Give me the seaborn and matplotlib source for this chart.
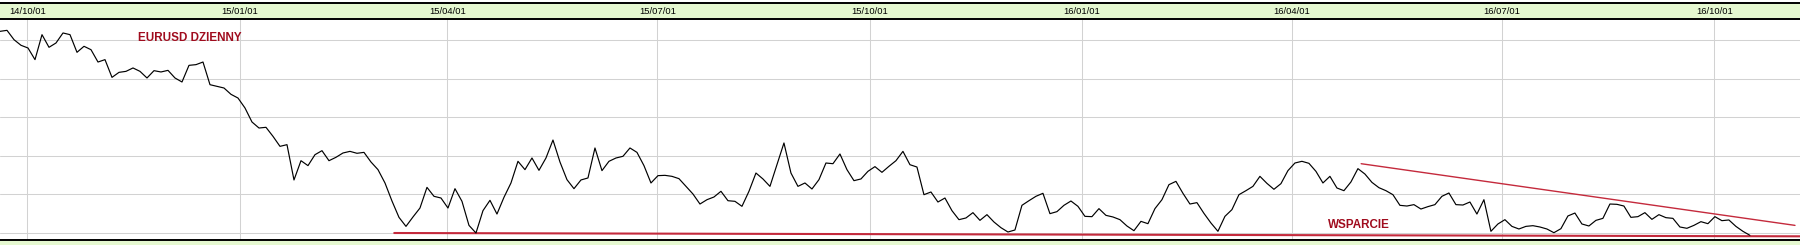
import numpy as np
import pandas as pd
import matplotlib
matplotlib.use("Agg")
import matplotlib.pyplot as plt
import matplotlib.dates as mdates
from matplotlib.patches import Rectangle
import seaborn as sns

# EURUSD daily close, sampled roughly every 3 calendar days
prices = [
    1.3116, 1.3129, 1.3008, 1.2935, 1.2900, 1.2749, 1.3073, 1.2909, 1.2965, 1.3095,
    1.3073, 1.2844, 1.2922, 1.2878, 1.2718, 1.2749, 1.2519, 1.2584, 1.2597, 1.2641,
    1.2597, 1.2511, 1.2606, 1.2589, 1.2610, 1.2511, 1.2459, 1.2675, 1.2684, 1.2718,
    1.2424, 1.2403, 1.2381, 1.2299, 1.2251, 1.2122, 1.1940, 1.1862, 1.1871, 1.1754,
    1.1624, 1.1646, 1.1188, 1.1438, 1.1374, 1.1516, 1.1568, 1.1438, 1.1482, 1.1538,
    1.1559, 1.1534, 1.1546, 1.1421, 1.1322, 1.1149, 1.0915, 1.0703, 1.0586, 1.0708,
    1.0824, 1.1092, 1.0976, 1.0954, 1.0824,
    1.1075, 1.0911, 1.0599, 1.0500, 1.0790, 1.0924, 1.0746, 1.0963, 1.1149, 1.1430,
    1.1322, 1.1473, 1.1313, 1.1473, 1.1706, 1.1421, 1.1192, 1.1075, 1.1188, 1.1214,
    1.1603, 1.1309, 1.1430, 1.1473, 1.1495, 1.1603, 1.1546, 1.1374, 1.1149, 1.1244,
    1.1248, 1.1235, 1.1205, 1.1105, 1.1006, 1.0876, 1.0932, 1.0967, 1.1041, 1.0919,
    1.0911, 1.0846, 1.1041, 1.1278, 1.1201, 1.1105, 1.1386, 1.1668, 1.1278, 1.1105,
    1.1149, 1.1071, 1.1192, 1.1408, 1.1399, 1.1525, 1.1322, 1.1179, 1.1201, 1.1300,
    1.1361, 1.1287, 1.1365, 1.1438,
    1.1559, 1.1386, 1.1356, 1.0997, 1.1032, 1.0902, 1.0954, 1.0790, 1.0673, 1.0695,
    1.0764, 1.0664, 1.0738, 1.0643, 1.0569, 1.0513, 1.0539, 1.0859, 1.0919, 1.0976,
    1.1015, 1.0751, 1.0777, 1.0859, 1.0915, 1.0846, 1.0716, 1.0712, 1.0816, 1.0729,
    1.0708, 1.0673, 1.0591, 1.0530, 1.0651, 1.0621, 1.0816, 1.0932, 1.1127, 1.1170,
    1.1015, 1.0876, 1.0894, 1.0755, 1.0630, 1.0522, 1.0716, 1.0803, 1.0997, 1.1049,
    1.1105, 1.1235, 1.1144, 1.1067, 1.1140, 1.1309, 1.1408, 1.1430, 1.1404, 1.1300,
    1.1149, 1.1235, 1.1084, 1.1049,
    1.1162, 1.1335, 1.1265, 1.1157, 1.1088, 1.1049, 1.0997, 1.0859, 1.0850, 1.0868,
    1.0811, 1.0842, 1.0868, 1.0976, 1.1019, 1.0868, 1.0863, 1.0902, 1.0746, 1.0932,
    1.0522, 1.0617, 1.0673, 1.0586, 1.0552, 1.0586, 1.0595, 1.0578, 1.0552, 1.0504,
    1.0556, 1.0721, 1.0759, 1.0617, 1.0591, 1.0664, 1.0690, 1.0876, 1.0872, 1.0850,
    1.0703, 1.0712, 1.0764, 1.0677, 1.0738, 1.0699, 1.0690, 1.0578, 1.0561, 1.0599,
    1.0647, 1.0621, 1.0712, 1.0660, 1.0669, 1.0586, 1.0522, 1.0470,
]
series_start = "2014-09-19 04:00"
series_end = "2016-10-16 11:00"
view_start = "2014-09-19 04:00"
view_end = "2016-11-07 04:00"
grid_levels = [1.05, 1.10, 1.15, 1.20, 1.25, 1.30]
y_range = [1.0413, 1.3276]

support_dates = ["2015-03-09 00:00", "2016-11-07 04:00"]
support_values = [1.0500, 1.0457]
trend_dates = ["2016-05-01 00:00", "2016-11-05 00:00"]
trend_values = [1.1399, 1.0599]

title_text = "EURUSD DZIENNY"
support_text = "WSPARCIE"

GREEN = "#e5f8d0"
RED_TXT = "#a00c1e"
RED_LINE = "#c42a3c"

dates = pd.date_range(series_start, series_end, periods=len(prices))
df = pd.DataFrame({"date": dates, "price": prices})
sup_df = pd.DataFrame({"date": [pd.Timestamp(d) for d in support_dates],
                       "price": support_values})
trd_df = pd.DataFrame({"date": [pd.Timestamp(d) for d in trend_dates],
                       "price": trend_values})

sns.set_theme(style="white")
plt.rcParams["font.family"] = ["Liberation Sans", "DejaVu Sans"]

fig = plt.figure(figsize=(18, 2.45), dpi=100)
fig.patch.set_facecolor("white")
fig.add_artist(Rectangle((0, 0), 1, 0.0216, transform=fig.transFigure,
                         facecolor=GREEN, edgecolor="none", zorder=0))

band = fig.add_axes([0, 0.9224, 1, 0.0641])
band.set_facecolor(GREEN)
band.set_xticks([])
band.set_yticks([])
for s in ["left", "right", "bottom"]:
    band.spines[s].set_visible(False)
band.spines["top"].set_color("black")
band.spines["top"].set_linewidth(1.4)

ax = fig.add_axes([0, 0.0216, 1, 0.9008])
ax.set_facecolor("white")

sns.lineplot(data=df, x="date", y="price", ax=ax, color="black", lw=0.85, zorder=3)
sns.lineplot(data=sup_df, x="date", y="price", ax=ax, color=RED_LINE, lw=1.5, zorder=2)
sns.lineplot(data=trd_df, x="date", y="price", ax=ax, color=RED_LINE, lw=1.0, zorder=2)

ax.set_xlim(pd.Timestamp(view_start), pd.Timestamp(view_end))
ax.set_ylim(*y_range)
ax.set_yticks(grid_levels)
ax.set_yticklabels([])
ax.xaxis.set_major_locator(mdates.MonthLocator(bymonth=[1, 4, 7, 10], bymonthday=1))
ax.xaxis.set_major_formatter(mdates.DateFormatter("%y/%m/%d"))
ax.tick_params(axis="x", top=True, bottom=False, labeltop=True, labelbottom=False,
               length=0, pad=2.2, labelsize=6.8, colors="black")
ax.tick_params(axis="y", left=False, right=False, length=0)
ax.grid(True, color="#d2d2d2", lw=0.75)
ax.set_axisbelow(True)
ax.set_xlabel("")
ax.set_ylabel("")
for s in ["left", "right"]:
    ax.spines[s].set_visible(False)
for s in ["top", "bottom"]:
    ax.spines[s].set_visible(True)
    ax.spines[s].set_color("black")
    ax.spines[s].set_linewidth(1.4)

ax.text(0.0765, 0.916, title_text, transform=ax.transAxes, color=RED_TXT,
        fontsize=8.4, fontweight="bold", ha="left", va="center")
ax.text(0.7378, 0.068, support_text, transform=ax.transAxes, color=RED_TXT,
        fontsize=8.4, fontweight="bold", ha="left", va="center")

fig.savefig("out.png", dpi=100)
